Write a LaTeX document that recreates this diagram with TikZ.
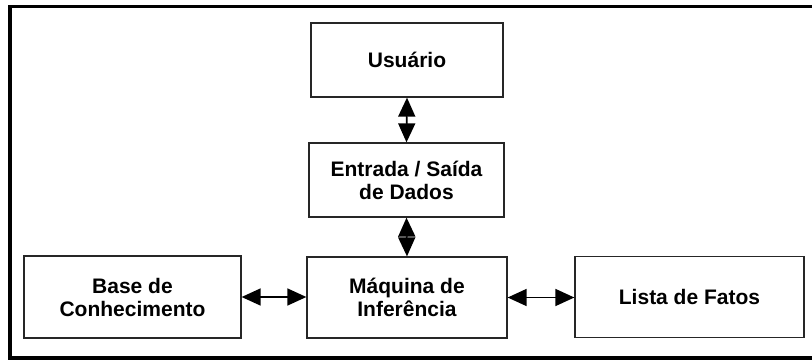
\documentclass[tikz,border=0pt]{standalone}
\usepackage{fontspec}
\setmainfont{Liberation Sans}
\usetikzlibrary{arrows.meta}

\begin{document}
\begin{tikzpicture}
[x=1pt, y=1pt,
 box/.style={draw=black!85, line width=1.3pt, inner sep=0pt, align=center,
   font=\fontsize{21}{23}\selectfont\bfseries},
 link/.style={line width=1.6pt,
   {Triangle[length=19pt,width=17pt]}-{Triangle[length=19pt,width=17pt]}}]

\useasboundingbox (0,0) rectangle (812,360);
% moldura
\draw[line width=3.5pt] (9.75,353.75) rectangle (814,2);

\node[box, minimum width=192pt, minimum height=74pt] (U) at (407,300) {Usuário};
\node[box, minimum width=195pt, minimum height=74pt] (ES) at (406.5,180) {Entrada / Saída\\de Dados};
\node[box, minimum width=200pt, minimum height=81pt] (MI) at (407,62.5) {Máquina de\\Inferência};
\node[box, minimum width=217pt, minimum height=82pt] (BC) at (132.5,63) {Base de\\Conhecimento};
\node[box, minimum width=229pt, minimum height=81pt] (LF) at (689.5,63) {Lista de Fatos};

\draw[link] (U.south) -- (ES.north);
\draw[link] (ES.south) -- (MI.north);
\draw[link] (BC.east) -- (BC.east -| MI.west);
\draw[link] (MI.east) -- (MI.east -| LF.west);
\end{tikzpicture}
\end{document}
